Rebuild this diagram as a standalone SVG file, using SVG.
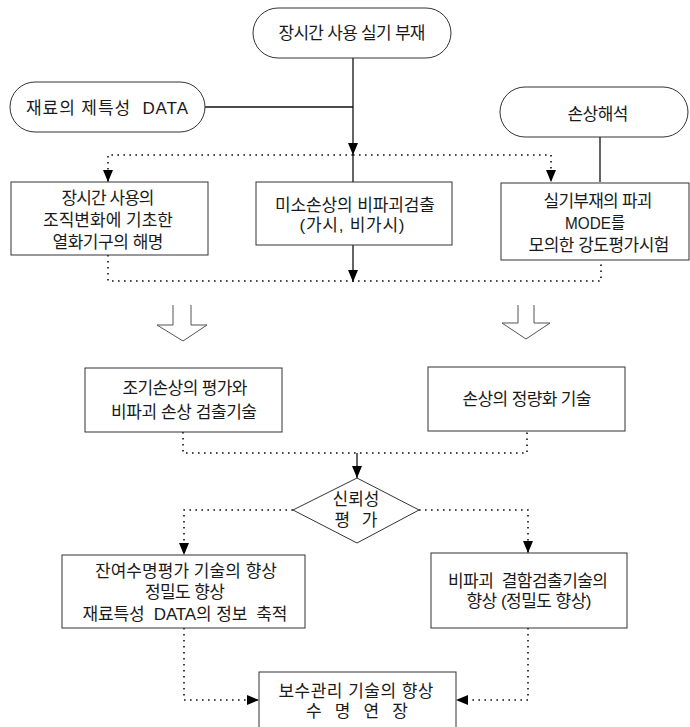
<svg xmlns="http://www.w3.org/2000/svg" width="690" height="727" viewBox="0 0 690 727">
<defs>
<style>
.bg{fill:#fff}
.box{fill:#fff;stroke:#333;stroke-width:1}
.solid{fill:none;stroke:#111;stroke-width:1.3}
.dot{fill:none;stroke:#111;stroke-width:1.6;stroke-dasharray:1.6 4.4}
.hollow{fill:none;stroke:#555;stroke-width:1}
text{font-family:"Liberation Sans","Noto Sans CJK KR",sans-serif;font-size:17px;fill:#1a1a1a;text-anchor:middle}
</style>
<marker id="ah" markerUnits="userSpaceOnUse" markerWidth="12" markerHeight="10" refX="12" refY="5" orient="auto">
<path d="M0,0 L12,5 L0,10 z" fill="#000"/>
</marker>
</defs>
<rect class="bg" x="0" y="0" width="690" height="727"/>

<g id="connectors">
<line class="solid" x1="205" y1="107" x2="353" y2="107"/>
<line class="solid" x1="353" y1="58" x2="353" y2="155" marker-end="url(#ah)"/>
<line class="solid" x1="353" y1="155" x2="353" y2="182"/>
<line class="solid" x1="600" y1="137" x2="600" y2="182"/>
<path class="dot" d="M353,155 H108 V182" marker-end="url(#ah)"/>
<path class="dot" d="M353,155 H551 V182" marker-end="url(#ah)"/>
<line class="solid" x1="353" y1="245" x2="353" y2="282" marker-end="url(#ah)"/>
<path class="dot" d="M108,255 V281 H601 V260"/>
<polyline class="hollow" points="173,305 173,325 157,325 183,341 207,325 191,325 191,305"/>
<polyline class="hollow" points="518,305 518,323 502,323 526,339 550,323 534,323 534,305"/>
<path class="dot" d="M183,432 V453 H527 V431"/>
<line class="solid" x1="357" y1="453" x2="357" y2="478" marker-end="url(#ah)"/>
<path class="dot" d="M293,510 H184 V555" marker-end="url(#ah)"/>
<path class="dot" d="M419,510 H528 V553" marker-end="url(#ah)"/>
<path class="dot" d="M184,628 V700 H259" marker-end="url(#ah)"/>
<path class="dot" d="M528,628 V700 H456" marker-end="url(#ah)"/>
</g>

<g id="node-top">
<rect class="box" x="253" y="8" width="198" height="50" rx="25" ry="25"/>
<text x="352" y="39" textLength="147" lengthAdjust="spacing">장시간 사용 실기 부재</text>
</g>

<g id="node-data">
<rect class="box" x="10" y="82" width="195" height="50" rx="25" ry="25"/>
<text x="107" y="114" textLength="162" lengthAdjust="spacing" xml:space="preserve">재료의 제특성  DATA</text>
</g>

<g id="node-damage-analysis">
<rect class="box" x="500" y="87" width="188" height="50" rx="25" ry="25"/>
<text x="598" y="120" textLength="61" lengthAdjust="spacing">손상해석</text>
</g>

<g id="node-left">
<rect class="box" x="11" y="182" width="197" height="73"/>
<text x="108" y="204" textLength="93" lengthAdjust="spacing">장시간 사용의</text>
<text x="108" y="226" textLength="130" lengthAdjust="spacing">조직변화에 기초한</text>
<text x="108" y="248" textLength="111" lengthAdjust="spacing">열화기구의 해명</text>
</g>

<g id="node-middle">
<rect class="box" x="256" y="182" width="196" height="63"/>
<text x="355" y="211" textLength="160" lengthAdjust="spacing">미소손상의 비파괴검출</text>
<text x="352" y="231" textLength="105" lengthAdjust="spacing">(가시, 비가시)</text>
</g>

<g id="node-right">
<rect class="box" x="501" y="183" width="188" height="77"/>
<text x="598" y="207" textLength="109" lengthAdjust="spacing">실기부재의 파괴</text>
<text x="595" y="229" textLength="60" lengthAdjust="spacingAndGlyphs">MODE를</text>
<text x="599" y="251" textLength="141" lengthAdjust="spacing">모의한 강도평가시험</text>
</g>

<g id="node-early-damage">
<rect class="box" x="85" y="368" width="197" height="64"/>
<text x="185" y="394" textLength="125" lengthAdjust="spacing">조기손상의 평가와</text>
<text x="184" y="418" textLength="146" lengthAdjust="spacing">비파괴 손상 검출기술</text>
</g>

<g id="node-quantify">
<rect class="box" x="428" y="367" width="197" height="64"/>
<text x="527" y="405" textLength="129" lengthAdjust="spacing">손상의 정량화 기술</text>
</g>

<g id="node-reliability">
<polygon class="box" points="357,478 419,510 357,543 293,510"/>
<text x="356" y="505">신뢰성</text>
<text x="356" y="526" textLength="43" lengthAdjust="spacing">평 가</text>
</g>

<g id="node-remaining-life">
<rect class="box" x="62" y="555" width="243" height="73"/>
<text x="186" y="577" textLength="182" lengthAdjust="spacing">잔여수명평가 기술의 향상</text>
<text x="185" y="598" textLength="80" lengthAdjust="spacing">정밀도 향상</text>
<text x="185" y="620" textLength="205" lengthAdjust="spacing" xml:space="preserve">재료특성  DATA의 정보  축적</text>
</g>

<g id="node-ndt">
<rect class="box" x="431" y="553" width="196" height="75"/>
<text x="528" y="587" textLength="160" lengthAdjust="spacing" xml:space="preserve">비파괴  결함검출기술의</text>
<text x="529" y="607" textLength="125" lengthAdjust="spacing">향상 (정밀도 향상)</text>
</g>

<g id="node-maintenance">
<rect class="box" x="259" y="672" width="197" height="70"/>
<text x="356" y="697" textLength="155" lengthAdjust="spacing">보수관리 기술의 향상</text>
<text x="357" y="717" textLength="102" lengthAdjust="spacing" xml:space="preserve">수  명  연  장</text>
</g>
</svg>
